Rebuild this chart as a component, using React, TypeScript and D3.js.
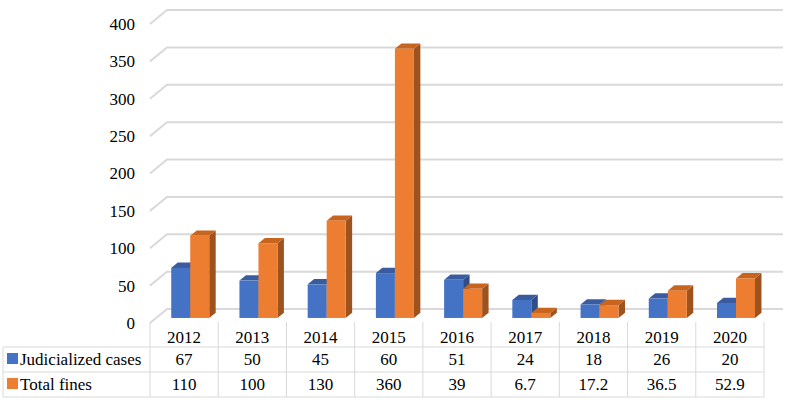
import React from "react";
import * as d3 from "d3";

const years = ["2012", "2013", "2014", "2015", "2016", "2017", "2018", "2019", "2020"];
const judicialized = [67, 50, 45, 60, 51, 24, 18, 26, 20];
const judicializedLabels = ["67", "50", "45", "60", "51", "24", "18", "26", "20"];
const totalFines = [110, 100, 130, 360, 39, 6.7, 17.2, 36.5, 52.9];
const totalFinesLabels = ["110", "100", "130", "360", "39", "6.7", "17.2", "36.5", "52.9"];
const yTicks = [0, 50, 100, 150, 200, 250, 300, 350, 400];
const seriesNames = ["Judicialized cases", "Total fines"];

const W = 797;
const H = 405;
const FONT = '"Liberation Serif", "Times New Roman", Tinos, "DejaVu Serif", serif';

const colors = [
  { front: "#4472C4", top: "#3A5C9E", side: "#2F4E88" },
  { front: "#ED7D31", top: "#C7651F", side: "#9E521E" },
];

export default function App() {
  const left = 150;
  const right = 764;
  const depthX = 17;
  const depthY = -14;
  const y = d3.scaleLinear().domain([0, 400]).range([323, 24]);
  const x = d3.scaleBand<string>().domain(years).range([left, right]).padding(0);
  const bw = x.bandwidth();
  const barW = 19;
  const f1 = 0.36;
  const f2 = 0.74;
  const shiftX = depthX * f1;
  const shiftY = depthY * f1;
  const dX = depthX * (f2 - f1);
  const dY = depthY * (f2 - f1);

  const gridColor = "#d9d9d9";
  const tableColor = "#d9d9d9";

  const bars: JSX.Element[] = [];
  years.forEach((yr, i) => {
    const cx = (x(yr) as number) + bw / 2 + shiftX;
    [judicialized[i], totalFines[i]].forEach((v, s) => {
      const x0 = cx - barW + s * barW;
      const x1 = x0 + barW;
      const yb = y(0) + shiftY;
      const yt = y(v) + shiftY;
      const c = colors[s];
      bars.push(
        <g key={`${yr}-${s}`}>
          <polygon
            points={`${x1},${yb} ${x1 + dX},${yb + dY} ${x1 + dX},${yt + dY} ${x1},${yt}`}
            fill={c.side}
          />
          <polygon
            points={`${x0},${yt} ${x0 + dX},${yt + dY} ${x1 + dX},${yt + dY} ${x1},${yt}`}
            fill={c.top}
          />
          <rect x={x0} y={yt} width={barW} height={yb - yt} fill={c.front} />
        </g>
      );
    });
  });

  const rowTop = 322;
  const row1 = 347;
  const row2 = 372;
  const row3 = 397;
  const textStyle = { fontFamily: FONT, fontSize: "17px" };

  return (
    <svg
      width={W}
      height={H}
      style={{ position: "fixed", left: 0, top: 0, background: "#fff", fontFamily: FONT }}
    >
      <rect width={W} height={H} fill="#fff" />
      {yTicks.map((t) => (
        <g key={t}>
          <polyline
            points={`${left},${y(t)} ${left + depthX},${y(t) + depthY} 783,${y(t) + depthY}`}
            fill="none"
            stroke={gridColor}
            strokeWidth={2}
          />
          <text x={135} y={y(t)} dy="0.35em" textAnchor="end" style={textStyle} fill="#000">
            {t}
          </text>
        </g>
      ))}
      {bars}
      {years.map((yr) => (
        <line
          key={`v-${yr}`}
          x1={x(yr) as number}
          x2={x(yr) as number}
          y1={rowTop}
          y2={row3}
          stroke={tableColor}
          strokeWidth={1}
        />
      ))}
      <line x1={right} x2={right} y1={rowTop} y2={row3} stroke={tableColor} />
      <line x1={3} x2={3} y1={row1} y2={row3} stroke={tableColor} />
      {[row1, row2, row3].map((ry) => (
        <line key={ry} x1={3} x2={right} y1={ry} y2={ry} stroke={tableColor} />
      ))}
      {years.map((yr, i) => {
        const cx = (x(yr) as number) + bw / 2;
        return (
          <g key={`t-${yr}`} textAnchor="middle" fill="#000">
            <text x={cx} y={343} style={textStyle}>{yr}</text>
            <text x={cx} y={364.5} style={textStyle}>{judicializedLabels[i]}</text>
            <text x={cx} y={390} style={textStyle}>{totalFinesLabels[i]}</text>
          </g>
        );
      })}
      {seriesNames.map((n, s) => (
        <g key={n}>
          <rect x={7} y={353 + s * 25} width={11} height={11} fill={colors[s].front} />
          <text x={20} y={364.5 + s * 25.5} style={textStyle} fill="#000">
            {n}
          </text>
        </g>
      ))}
    </svg>
  );
}
